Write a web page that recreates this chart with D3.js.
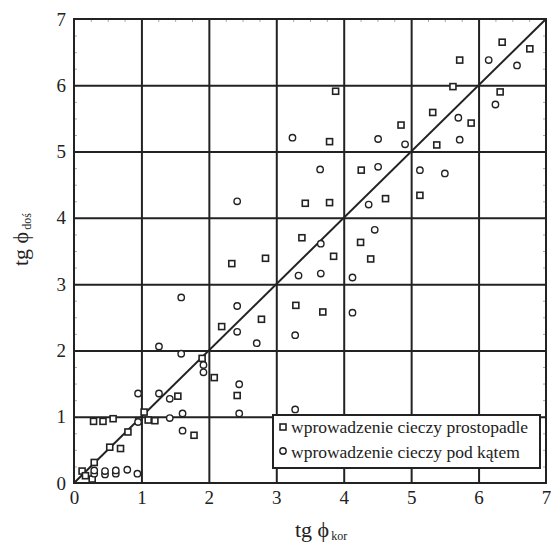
<!DOCTYPE html>
<html lang="pl">
<head>
<meta charset="UTF-8">
<title>tg phi</title>
<script src="https://cdn.jsdelivr.net/npm/d3@7"></script>
<style>
  body { margin: 0; background: #fff; }
  text { font-family: "Liberation Serif", "DejaVu Serif", serif; fill: #222; }
</style>
</head>
<body>
<div id="chart"></div>
<script>
// data
var ticks = [0, 1, 2, 3, 4, 5, 6, 7];
var squareX = [6.35, 6.76, 5.72, 3.88, 5.62, 6.32, 5.32, 5.89, 4.85, 3.79, 5.38, 4.26, 3.43, 3.79, 4.62,
  5.13, 3.38, 4.25, 3.85, 4.40, 2.34, 2.84, 3.69, 3.29, 2.78, 2.19, 1.90, 2.08, 2.42, 1.54, 1.04,
  0.29, 0.43, 0.58, 0.96, 1.10, 1.20, 1.78, 0.80, 0.53, 0.69, 0.30, 0.12, 0.17, 0.27];
var squareY = [6.65, 6.55, 6.38, 5.91, 5.98, 5.90, 5.59, 5.43, 5.40, 5.15, 5.10, 4.72, 4.22, 4.23, 4.29,
  4.34, 3.70, 3.63, 3.42, 3.38, 3.31, 3.39, 2.58, 2.68, 2.47, 2.36, 1.88, 1.59, 1.32, 1.31, 1.07,
  0.93, 0.93, 0.97, 0.94, 0.95, 0.94, 0.72, 0.77, 0.54, 0.52, 0.31, 0.18, 0.11, 0.06];
var circleX = [6.15, 6.57, 6.25, 5.70, 5.72, 3.24, 4.51, 4.91, 3.65, 4.51, 5.13, 5.50, 2.42, 4.37, 4.46,
  3.66, 3.33, 3.66, 4.13, 4.13, 1.59, 2.42, 2.42, 3.28, 2.71, 1.26, 1.59, 1.92, 1.92, 2.45, 0.95,
  1.26, 1.42, 2.45, 1.61, 3.28, 0.95, 1.42, 1.61, 0.30, 0.30, 0.46, 0.46, 0.62, 0.62, 0.79, 0.94];
var circleY = [6.38, 6.30, 5.71, 5.51, 5.18, 5.21, 5.19, 5.11, 4.73, 4.77, 4.72, 4.67, 4.25, 4.20, 3.82,
  3.61, 3.13, 3.16, 3.10, 2.57, 2.80, 2.67, 2.28, 2.23, 2.11, 2.06, 1.95, 1.78, 1.67, 1.49, 1.35,
  1.35, 1.27, 1.05, 1.05, 1.11, 0.92, 0.98, 0.79, 0.14, 0.19, 0.13, 0.18, 0.14, 0.19, 0.20, 0.14];
var legendLabels = ["wprowadzenie cieczy prostopadle", "wprowadzenie cieczy pod kątem"];

var width = 551, height = 544;
var pLeft = 74, pTop = 19, pRight = 546, pBottom = 483;

var svg = d3.select("#chart").append("svg")
    .attr("width", width)
    .attr("height", height);

var x = d3.scaleLinear().domain([0, 7]).range([pLeft, pRight]);
var y = d3.scaleLinear().domain([0, 7]).range([pBottom, pTop]);

function faint(g) { g.select(".domain").remove(); g.selectAll("line").attr("stroke", "#aaa"); }

// little inner ticks along the frame
var minor = d3.range(0, 7.01, 0.25);
svg.append("g").attr("transform", "translate(0," + pTop + ")")
    .call(d3.axisBottom(x).tickValues(minor).tickSize(3).tickFormat(""))
    .call(faint);
svg.append("g").attr("transform", "translate(" + pRight + ",0)")
    .call(d3.axisLeft(y).tickValues(minor).tickSize(3).tickFormat(""))
    .call(faint);
svg.append("g").attr("transform", "translate(" + pLeft + ",0)")
    .call(d3.axisRight(y).tickValues(minor).tickSize(3).tickFormat(""))
    .call(faint);

// grid
function grid(g) { g.select(".domain").remove(); g.selectAll("line").attr("stroke", "#222").attr("stroke-width", 2); }
svg.append("g").attr("transform", "translate(0," + pBottom + ")")
    .call(d3.axisBottom(x).tickValues(ticks.slice(1, 7)).tickSize(-(pBottom - pTop)).tickFormat(""))
    .call(grid);
svg.append("g").attr("transform", "translate(" + pLeft + ",0)")
    .call(d3.axisLeft(y).tickValues(ticks.slice(1, 7)).tickSize(-(pRight - pLeft)).tickFormat(""))
    .call(grid);

// tick labels
function labels(g) {
  g.select(".domain").remove();
  g.selectAll("text").attr("font-size", 19).attr("font-family", "Liberation Serif").attr("fill", "#222");
}
svg.append("g").attr("transform", "translate(0," + pBottom + ")")
    .call(d3.axisBottom(x).tickValues(ticks).tickSize(0).tickPadding(8).tickFormat(d3.format("d")))
    .call(labels);
svg.append("g").attr("transform", "translate(" + pLeft + ",0)")
    .call(d3.axisLeft(y).tickValues(ticks).tickSize(0).tickPadding(8).tickFormat(d3.format("d")))
    .call(labels);

// frame
svg.append("rect")
    .attr("x", pLeft).attr("y", pTop)
    .attr("width", pRight - pLeft).attr("height", pBottom - pTop)
    .attr("fill", "none").attr("stroke", "#222").attr("stroke-width", 2);

// y = x
svg.append("line")
    .attr("x1", x(0)).attr("y1", y(0))
    .attr("x2", x(7)).attr("y2", y(7))
    .attr("stroke", "#222").attr("stroke-width", 2);

// points
var sq = 6;
svg.append("g").selectAll("rect")
    .data(d3.range(squareX.length))
    .enter().append("rect")
    .attr("x", function(i) { return x(squareX[i]) - sq / 2; })
    .attr("y", function(i) { return y(squareY[i]) - sq / 2; })
    .attr("width", sq).attr("height", sq)
    .attr("fill", "#fff").attr("stroke", "#222").attr("stroke-width", 1.6);

svg.append("g").selectAll("circle")
    .data(d3.range(circleX.length))
    .enter().append("circle")
    .attr("cx", function(i) { return x(circleX[i]); })
    .attr("cy", function(i) { return y(circleY[i]); })
    .attr("r", 3.2)
    .attr("fill", "#fff").attr("stroke", "#222").attr("stroke-width", 1.4);

// legend
var lg = svg.append("g");
lg.append("rect")
    .attr("x", 273).attr("y", 415).attr("width", 267).attr("height", 53)
    .attr("fill", "#fff").attr("stroke", "#222").attr("stroke-width", 2);
lg.append("rect")
    .attr("x", 280).attr("y", 424).attr("width", sq).attr("height", sq)
    .attr("fill", "#fff").attr("stroke", "#222").attr("stroke-width", 1.6);
lg.append("circle")
    .attr("cx", 283).attr("cy", 451).attr("r", 3.2)
    .attr("fill", "#fff").attr("stroke", "#222").attr("stroke-width", 1.4);
lg.selectAll("text.lab")
    .data(legendLabels)
    .enter().append("text")
    .attr("class", "lab")
    .attr("x", 291)
    .attr("y", function(d, i) { return 433 + i * 24.5; })
    .attr("font-size", 17.5)
    .text(function(d) { return d; });

// axis titles
var xt = svg.append("text")
    .attr("x", 295).attr("y", 537)
    .attr("font-size", 22);
xt.append("tspan").text("tg ϕ");
xt.append("tspan").attr("font-size", 12).attr("dx", 2).attr("dy", 3).text("kor");

var yt = svg.append("text")
    .attr("transform", "translate(28,266) rotate(-90)")
    .attr("font-size", 22);
yt.append("tspan").text("tg ϕ");
yt.append("tspan").attr("font-size", 12).attr("dx", 2).attr("dy", 3).text("doś");
</script>
</body>
</html>
